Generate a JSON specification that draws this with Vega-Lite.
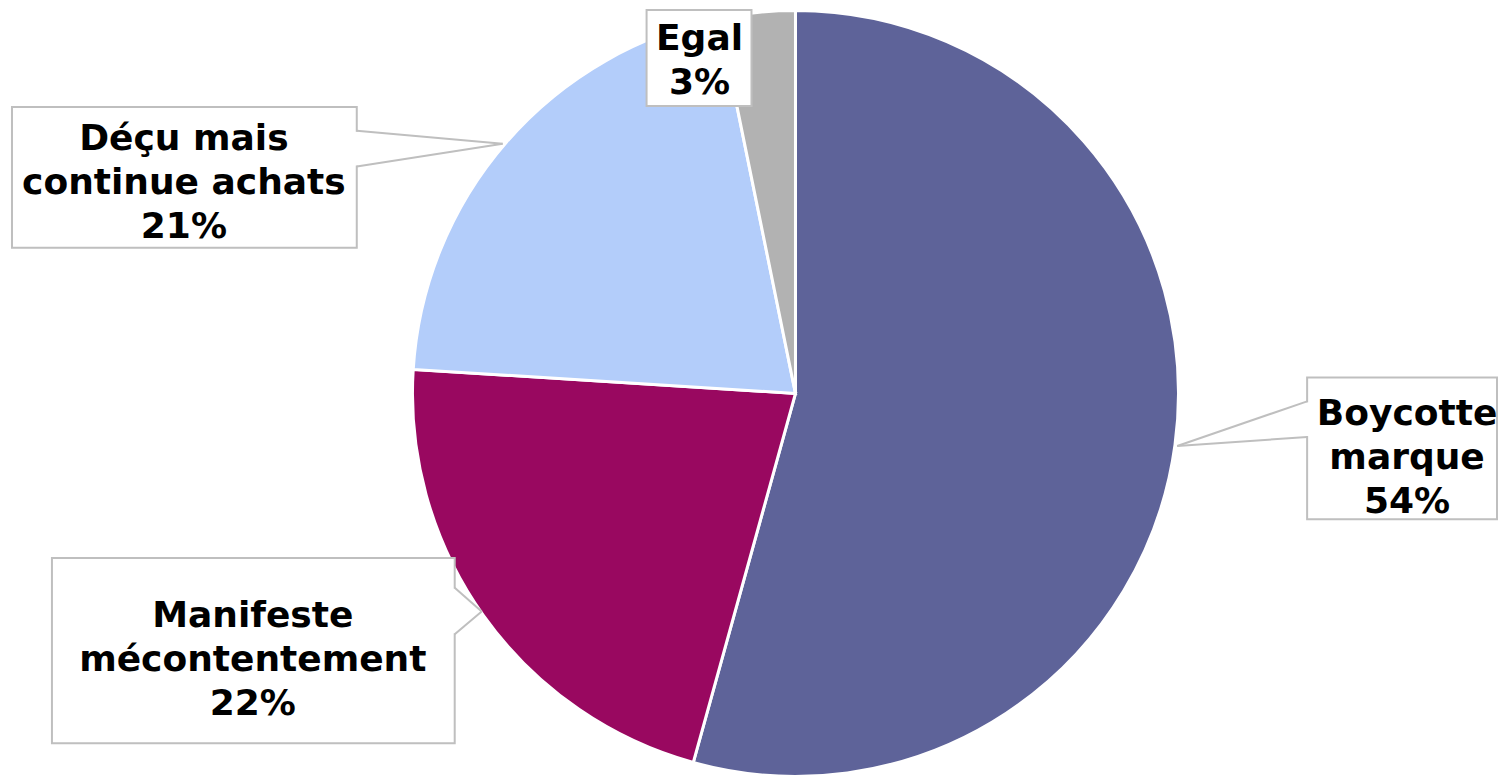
{
  "$schema": "https://vega.github.io/schema/vega-lite/v6.json",
  "width": 1499,
  "height": 779,
  "padding": 0,
  "autosize": {"type": "fit", "contains": "padding"},
  "background": "white",
  "config": {"view": {"stroke": null}},
  "data": {"values": [
    {"category": "Boycotte marque", "value": 54.3, "label": "Boycotte\nmarque\n54%"},
    {"category": "Manifeste mécontentement", "value": 21.7, "label": "Manifeste\nmécontentement\n22%"},
    {"category": "Déçu mais continue achats", "value": 20.8, "label": "Déçu mais\ncontinue achats\n21%"},
    {"category": "Egal", "value": 3.2, "label": "Egal\n3%"}
  ]},
  "layer": [
    {
      "mark": {"type": "arc", "outerRadius": 383, "stroke": "white", "strokeWidth": 3},
      "encoding": {
        "x": {"datum": 0, "type": "quantitative", "scale": {"domain": [-2.07833, 1.83551], "nice": false, "zero": false}, "axis": null},
        "y": {"datum": 0, "type": "quantitative", "scale": {"domain": [-0.99739, 1.03655], "nice": false, "zero": false}, "axis": null},
        "theta": {"field": "value", "type": "quantitative", "stack": true},
        "order": {"field": "value", "sort": "descending"},
        "color": {"field": "category", "type": "nominal", "legend": null,
          "scale": {"domain": ["Boycotte marque", "Manifeste mécontentement", "Déçu mais continue achats", "Egal"],
                    "range": ["#5E6399", "#990860", "#B3CDFA", "#B2B2B2"]}}
      }
    },
    {
      "data": {"values": [{}]},
      "mark": {"type": "rect", "fill": "white", "stroke": "#BFBFBF", "strokeWidth": 2},
      "encoding": {
        "x": {"datum": 1.3368, "type": "quantitative", "scale": {"domain": [-2.07833, 1.83551], "nice": false, "zero": false}, "axis": null},
        "x2": {"datum": 1.8329},
        "y": {"datum": 0.0418, "type": "quantitative", "scale": {"domain": [-0.99739, 1.03655], "nice": false, "zero": false}, "axis": null},
        "y2": {"datum": -0.3316}
      }
    },
    {
      "data": {"values": [{}]},
      "mark": {"type": "rect", "fill": "white", "stroke": "#BFBFBF", "strokeWidth": 2},
      "encoding": {
        "x": {"datum": -0.3890, "type": "quantitative", "scale": {"domain": [-2.07833, 1.83551], "nice": false, "zero": false}, "axis": null},
        "x2": {"datum": -0.1149},
        "y": {"datum": 1.0104, "type": "quantitative", "scale": {"domain": [-0.99739, 1.03655], "nice": false, "zero": false}, "axis": null},
        "y2": {"datum": 0.7572}
      }
    },
    {
      "data": {"values": [{}]},
      "mark": {"type": "rect", "fill": "white", "stroke": "#BFBFBF", "strokeWidth": 2},
      "encoding": {
        "x": {"datum": -2.0470, "type": "quantitative", "scale": {"domain": [-2.07833, 1.83551], "nice": false, "zero": false}, "axis": null},
        "x2": {"datum": -1.1462},
        "y": {"datum": 0.7546, "type": "quantitative", "scale": {"domain": [-0.99739, 1.03655], "nice": false, "zero": false}, "axis": null},
        "y2": {"datum": 0.3838}
      }
    },
    {
      "data": {"values": [{}]},
      "mark": {"type": "rect", "fill": "white", "stroke": "#BFBFBF", "strokeWidth": 2},
      "encoding": {
        "x": {"datum": -1.9426, "type": "quantitative", "scale": {"domain": [-2.07833, 1.83551], "nice": false, "zero": false}, "axis": null},
        "x2": {"datum": -0.8903},
        "y": {"datum": -0.4334, "type": "quantitative", "scale": {"domain": [-0.99739, 1.03655], "nice": false, "zero": false}, "axis": null},
        "y2": {"datum": -0.9217}
      }
    },
    {
      "data": {"values": [{}]},
      "mark": {"type": "rule", "stroke": "white", "strokeWidth": 4},
      "encoding": {
        "x": {"datum": 1.3368, "type": "quantitative", "scale": {"domain": [-2.07833, 1.83551], "nice": false, "zero": false}, "axis": null},
        "x2": {"datum": 1.3368},
        "y": {"datum": -0.0235, "type": "quantitative", "scale": {"domain": [-0.99739, 1.03655], "nice": false, "zero": false}, "axis": null},
        "y2": {"datum": -0.1123}
      }
    },
    {
      "data": {"values": [{}]},
      "mark": {"type": "rule", "stroke": "white", "strokeWidth": 4},
      "encoding": {
        "x": {"datum": -1.1462, "type": "quantitative", "scale": {"domain": [-2.07833, 1.83551], "nice": false, "zero": false}, "axis": null},
        "x2": {"datum": -1.1462},
        "y": {"datum": 0.6893, "type": "quantitative", "scale": {"domain": [-0.99739, 1.03655], "nice": false, "zero": false}, "axis": null},
        "y2": {"datum": 0.6005}
      }
    },
    {
      "data": {"values": [{}]},
      "mark": {"type": "rule", "stroke": "white", "strokeWidth": 4},
      "encoding": {
        "x": {"datum": -0.8903, "type": "quantitative", "scale": {"domain": [-2.07833, 1.83551], "nice": false, "zero": false}, "axis": null},
        "x2": {"datum": -0.8903},
        "y": {"datum": -0.5143, "type": "quantitative", "scale": {"domain": [-0.99739, 1.03655], "nice": false, "zero": false}, "axis": null},
        "y2": {"datum": -0.6319}
      }
    },
    {
      "data": {"values": [{}]},
      "mark": {"type": "rule", "stroke": "#BFBFBF", "strokeWidth": 2},
      "encoding": {
        "x": {"datum": 1.3368, "type": "quantitative", "scale": {"domain": [-2.07833, 1.83551], "nice": false, "zero": false}, "axis": null},
        "x2": {"datum": 0.9974},
        "y": {"datum": -0.0209, "type": "quantitative", "scale": {"domain": [-0.99739, 1.03655], "nice": false, "zero": false}, "axis": null},
        "y2": {"datum": -0.1384}
      }
    },
    {
      "data": {"values": [{}]},
      "mark": {"type": "rule", "stroke": "#BFBFBF", "strokeWidth": 2},
      "encoding": {
        "x": {"datum": 1.3368, "type": "quantitative", "scale": {"domain": [-2.07833, 1.83551], "nice": false, "zero": false}, "axis": null},
        "x2": {"datum": 0.9974},
        "y": {"datum": -0.1149, "type": "quantitative", "scale": {"domain": [-0.99739, 1.03655], "nice": false, "zero": false}, "axis": null},
        "y2": {"datum": -0.1384}
      }
    },
    {
      "data": {"values": [{}]},
      "mark": {"type": "rule", "stroke": "#BFBFBF", "strokeWidth": 2},
      "encoding": {
        "x": {"datum": -1.1462, "type": "quantitative", "scale": {"domain": [-2.07833, 1.83551], "nice": false, "zero": false}, "axis": null},
        "x2": {"datum": -0.7650},
        "y": {"datum": 0.6919, "type": "quantitative", "scale": {"domain": [-0.99739, 1.03655], "nice": false, "zero": false}, "axis": null},
        "y2": {"datum": 0.6580}
      }
    },
    {
      "data": {"values": [{}]},
      "mark": {"type": "rule", "stroke": "#BFBFBF", "strokeWidth": 2},
      "encoding": {
        "x": {"datum": -1.1462, "type": "quantitative", "scale": {"domain": [-2.07833, 1.83551], "nice": false, "zero": false}, "axis": null},
        "x2": {"datum": -0.7650},
        "y": {"datum": 0.5979, "type": "quantitative", "scale": {"domain": [-0.99739, 1.03655], "nice": false, "zero": false}, "axis": null},
        "y2": {"datum": 0.6580}
      }
    },
    {
      "data": {"values": [{}]},
      "mark": {"type": "rule", "stroke": "#BFBFBF", "strokeWidth": 2},
      "encoding": {
        "x": {"datum": -0.8903, "type": "quantitative", "scale": {"domain": [-2.07833, 1.83551], "nice": false, "zero": false}, "axis": null},
        "x2": {"datum": -0.8198},
        "y": {"datum": -0.5117, "type": "quantitative", "scale": {"domain": [-0.99739, 1.03655], "nice": false, "zero": false}, "axis": null},
        "y2": {"datum": -0.5744}
      }
    },
    {
      "data": {"values": [{}]},
      "mark": {"type": "rule", "stroke": "#BFBFBF", "strokeWidth": 2},
      "encoding": {
        "x": {"datum": -0.8903, "type": "quantitative", "scale": {"domain": [-2.07833, 1.83551], "nice": false, "zero": false}, "axis": null},
        "x2": {"datum": -0.8198},
        "y": {"datum": -0.6345, "type": "quantitative", "scale": {"domain": [-0.99739, 1.03655], "nice": false, "zero": false}, "axis": null},
        "y2": {"datum": -0.5744}
      }
    },
    {
      "transform": [{"filter": "datum.category === 'Boycotte marque'"}],
      "mark": {"type": "text", "font": "DejaVu Sans", "fontWeight": "bold", "fontSize": 36, "lineHeight": 44, "lineBreak": "\n", "align": "center", "baseline": "middle", "color": "black"},
      "encoding": {
        "x": {"datum": 1.5979, "type": "quantitative", "scale": {"domain": [-2.07833, 1.83551], "nice": false, "zero": false}, "axis": null},
        "y": {"datum": -0.0548, "type": "quantitative", "scale": {"domain": [-0.99739, 1.03655], "nice": false, "zero": false}, "axis": null},
        "text": {"field": "label", "type": "nominal"}
      }
    },
    {
      "transform": [{"filter": "datum.category === 'Egal'"}],
      "mark": {"type": "text", "font": "DejaVu Sans", "fontWeight": "bold", "fontSize": 36, "lineHeight": 44, "lineBreak": "\n", "align": "center", "baseline": "middle", "color": "black"},
      "encoding": {
        "x": {"datum": -0.2507, "type": "quantitative", "scale": {"domain": [-2.07833, 1.83551], "nice": false, "zero": false}, "axis": null},
        "y": {"datum": 0.9347, "type": "quantitative", "scale": {"domain": [-0.99739, 1.03655], "nice": false, "zero": false}, "axis": null},
        "text": {"field": "label", "type": "nominal"}
      }
    },
    {
      "transform": [{"filter": "datum.category === 'Déçu mais continue achats'"}],
      "mark": {"type": "text", "font": "DejaVu Sans", "fontWeight": "bold", "fontSize": 36, "lineHeight": 44, "lineBreak": "\n", "align": "center", "baseline": "middle", "color": "black"},
      "encoding": {
        "x": {"datum": -1.5979, "type": "quantitative", "scale": {"domain": [-2.07833, 1.83551], "nice": false, "zero": false}, "axis": null},
        "y": {"datum": 0.6710, "type": "quantitative", "scale": {"domain": [-0.99739, 1.03655], "nice": false, "zero": false}, "axis": null},
        "text": {"field": "label", "type": "nominal"}
      }
    },
    {
      "transform": [{"filter": "datum.category === 'Manifeste mécontentement'"}],
      "mark": {"type": "text", "font": "DejaVu Sans", "fontWeight": "bold", "fontSize": 36, "lineHeight": 44, "lineBreak": "\n", "align": "center", "baseline": "middle", "color": "black"},
      "encoding": {
        "x": {"datum": -1.4178, "type": "quantitative", "scale": {"domain": [-2.07833, 1.83551], "nice": false, "zero": false}, "axis": null},
        "y": {"datum": -0.5875, "type": "quantitative", "scale": {"domain": [-0.99739, 1.03655], "nice": false, "zero": false}, "axis": null},
        "text": {"field": "label", "type": "nominal"}
      }
    }
  ]
}
